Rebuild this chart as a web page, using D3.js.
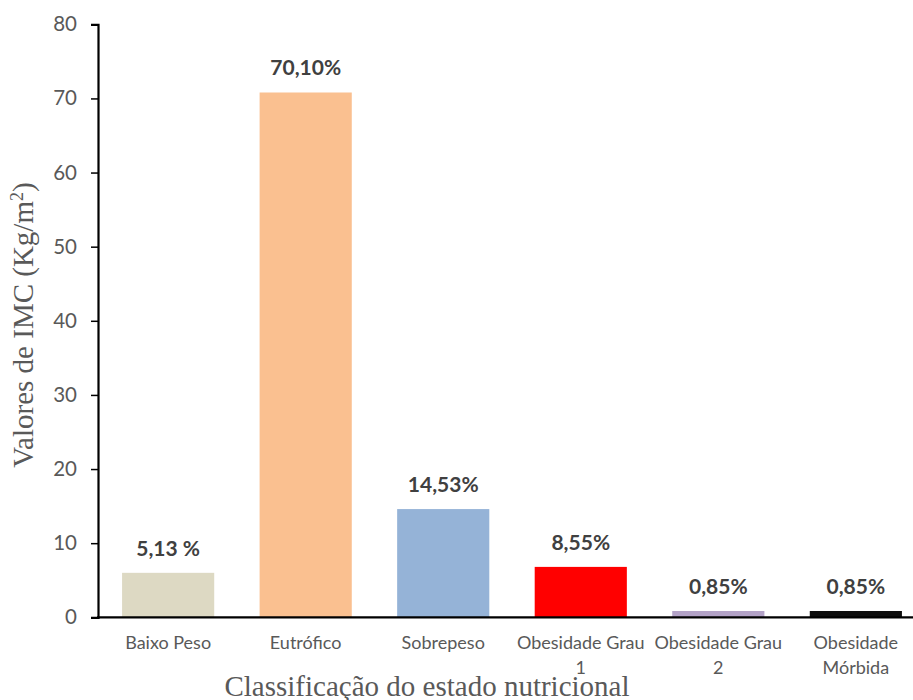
<!DOCTYPE html>
<html>
<head>
<meta charset="utf-8">
<script src="https://cdn.jsdelivr.net/npm/d3@7"></script>
<style>
  body { margin: 0; background: #fff; }
  svg { display: block; }
  .tick text { font-family: Lato, "Open Sans", sans-serif; fill: #595959; }
</style>
</head>
<body>
<svg id="chart" width="913" height="700"></svg>
<script>
// data
const categories = ["Baixo Peso", "Eutrófico", "Sobrepeso", "Obesidade Grau 1", "Obesidade Grau 2", "Obesidade Mórbida"];
const values = [6.0, 70.8, 14.6, 6.8, 0.85, 0.85];
const valueLabels = ["5,13 %", "70,10%", "14,53%", "8,55%", "0,85%", "0,85%"];
const barColors = ["#DDD9C3", "#FAC090", "#95B3D7", "#FF0000", "#B3A2C7", "#0D0D0D"];
const yTicks = [0, 10, 20, 30, 40, 50, 60, 70, 80];

const svg = d3.select("#chart");
const x0 = 98, y0 = 617.3, yTop = 24.3;

const x = d3.scaleBand()
  .domain(categories)
  .range([x0, 926])
  .paddingInner(0.33)
  .paddingOuter(0.175);

const y = d3.scaleLinear().domain([0, 80]).range([y0, yTop]);

// bars
svg.selectAll("rect.bar")
  .data(categories)
  .join("rect")
  .attr("class", "bar")
  .attr("x", d => x(d))
  .attr("width", x.bandwidth())
  .attr("y", (d, i) => y(values[i]))
  .attr("height", (d, i) => y0 - y(values[i]))
  .attr("fill", (d, i) => barColors[i]);

// value labels
svg.selectAll("text.val")
  .data(categories)
  .join("text")
  .attr("class", "val")
  .attr("x", d => x(d) + x.bandwidth() / 2)
  .attr("y", (d, i) => y(values[i]) - 17)
  .attr("text-anchor", "middle")
  .style("font-family", "Lato, 'Open Sans', sans-serif")
  .style("font-weight", "bold")
  .style("font-size", "21px")
  .style("fill", "#404040")
  .text((d, i) => valueLabels[i]);

// y axis
const yAxis = svg.append("g")
  .attr("transform", `translate(${x0},0)`)
  .call(d3.axisLeft(y).tickValues(yTicks).tickSize(7).tickPadding(14));
yAxis.select(".domain").attr("stroke", "#000").attr("stroke-width", 2.2);
yAxis.selectAll(".tick line").attr("stroke", "#000").attr("stroke-width", 1.5);
yAxis.selectAll(".tick text").style("font-size", "20.5px");

// x axis line
svg.append("line")
  .attr("x1", x0 - 1).attr("x2", 913)
  .attr("y1", y0).attr("y2", y0)
  .attr("stroke", "#000").attr("stroke-width", 2.2);

// category labels, wrapped
const catText = svg.selectAll("text.cat")
  .data(categories)
  .join("text")
  .attr("class", "cat")
  .attr("x", d => x(d) + x.bandwidth() / 2)
  .attr("y", 649)
  .attr("text-anchor", "middle")
  .style("font-family", "Lato, 'Open Sans', sans-serif")
  .style("font-size", "18px")
  .style("fill", "#595959");

catText.each(function(d) {
  const t = d3.select(this);
  const words = d.split(" ");
  const maxW = 134;
  let line = [];
  let tspan = t.append("tspan").attr("x", t.attr("x")).attr("dy", 0);
  words.forEach(w => {
    line.push(w);
    tspan.text(line.join(" "));
    if (tspan.node().getComputedTextLength() > maxW && line.length > 1) {
      line.pop();
      tspan.text(line.join(" "));
      line = [w];
      tspan = t.append("tspan").attr("x", t.attr("x")).attr("dy", 25).text(w);
    }
  });
});

// axis titles
svg.append("text")
  .attr("x", 427)
  .attr("y", 696)
  .attr("text-anchor", "middle")
  .style("font-family", "'Liberation Serif', 'Times New Roman', serif")
  .style("font-size", "29px")
  .style("fill", "#595959")
  .text("Classificação do estado nutricional");

const yTitle = svg.append("text")
  .attr("transform", "translate(33,325) rotate(-90)")
  .attr("text-anchor", "middle")
  .style("font-family", "'Liberation Serif', 'Times New Roman', serif")
  .style("font-size", "29px")
  .style("fill", "#595959");
yTitle.append("tspan").text("Valores de IMC (Kg/m");
yTitle.append("tspan").attr("baseline-shift", "super").style("font-size", "18px").text("2");
yTitle.append("tspan").text(")");
</script>
</body>
</html>
